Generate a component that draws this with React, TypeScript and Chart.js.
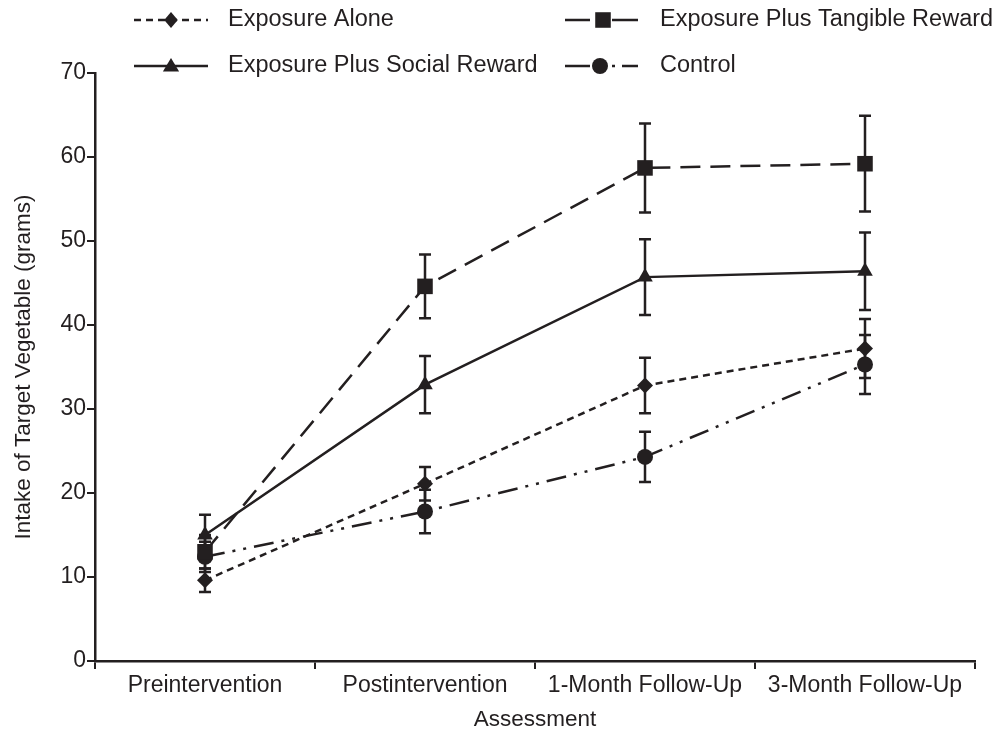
import React, { useEffect, useRef } from "react";
import { Chart, registerables } from "chart.js";

Chart.register(...registerables);

const categories = ["Preintervention", "Postintervention", "1-Month Follow-Up", "3-Month Follow-Up"];
const seriesNames = ["Exposure Alone", "Exposure Plus Tangible Reward", "Exposure Plus Social Reward", "Control"];
const exposureAlone = [9.6, 21.1, 32.8, 37.2];
const exposureAloneErr = [1.4, 2.0, 3.3, 3.5];
const tangibleReward = [13.0, 44.6, 58.7, 59.2];
const tangibleRewardErr = [2.0, 3.8, 5.3, 5.7];
const socialReward = [15.0, 32.9, 45.7, 46.4];
const socialRewardErr = [2.4, 3.4, 4.5, 4.6];
const control = [12.4, 17.8, 24.3, 35.3];
const controlErr = [1.8, 2.6, 3.0, 3.5];
const yTicks = [0, 10, 20, 30, 40, 50, 60, 70];

const INK = "#231f20";
const FONT = "'Liberation Sans', Arial, Helvetica, sans-serif";

function drawMarker(ctx: CanvasRenderingContext2D, style: string, x: number, y: number, r: number) {
  ctx.save();
  ctx.fillStyle = INK;
  ctx.beginPath();
  if (style === "rectRot") {
    ctx.moveTo(x, y - r);
    ctx.lineTo(x + r * 0.85, y);
    ctx.lineTo(x, y + r);
    ctx.lineTo(x - r * 0.85, y);
    ctx.closePath();
  } else if (style === "rect") {
    const s = r * Math.SQRT1_2;
    ctx.rect(x - s, y - s, 2 * s, 2 * s);
  } else if (style === "triangle") {
    const h = r * 1.5;
    const hw = r * 0.9;
    ctx.moveTo(x, y - h * 0.6);
    ctx.lineTo(x + hw, y + h * 0.4);
    ctx.lineTo(x - hw, y + h * 0.4);
    ctx.closePath();
  } else {
    ctx.arc(x, y, r, 0, Math.PI * 2);
  }
  ctx.fill();
  ctx.restore();
}

const errorBarPlugin = {
  id: "errorBars",
  beforeDatasetsDraw(chart: any) {
    const ctx = chart.ctx as CanvasRenderingContext2D;
    const yScale = chart.scales.y;
    chart.data.datasets.forEach((ds: any, i: number) => {
      const meta = chart.getDatasetMeta(i);
      meta.data.forEach((pt: any, j: number) => {
        const v = ds.data[j];
        const e = ds.errors[j];
        const yTop = yScale.getPixelForValue(v + e);
        const yBot = yScale.getPixelForValue(v - e);
        ctx.save();
        ctx.strokeStyle = INK;
        ctx.lineWidth = 2.5;
        ctx.setLineDash([]);
        ctx.beginPath();
        ctx.moveTo(pt.x, yTop);
        ctx.lineTo(pt.x, yBot);
        ctx.moveTo(pt.x - 6, yTop);
        ctx.lineTo(pt.x + 6, yTop);
        ctx.moveTo(pt.x - 6, yBot);
        ctx.lineTo(pt.x + 6, yBot);
        ctx.stroke();
        ctx.restore();
      });
    });
  },
};

const legendPlugin = {
  id: "customLegend",
  afterDraw(chart: any) {
    const ctx = chart.ctx as CanvasRenderingContext2D;
    const slots = [
      { x1: 134, x2: 208, mx: 171, tx: 228, y: 20 },
      { x1: 565, x2: 638, mx: 603, tx: 660, y: 20 },
      { x1: 134, x2: 208, mx: 171, tx: 228, y: 66 },
      { x1: 565, x2: 638, mx: 600, tx: 660, y: 66 },
    ];
    chart.data.datasets.forEach((ds: any, i: number) => {
      const s = slots[i];
      ctx.save();
      ctx.strokeStyle = INK;
      ctx.lineWidth = 2.5;
      ctx.setLineDash(ds.legendDash || []);
      ctx.beginPath();
      ctx.moveTo(s.x1, s.y);
      ctx.lineTo(s.x2, s.y);
      ctx.stroke();
      ctx.restore();
      drawMarker(ctx, ds.pointStyle, s.mx, s.y, ds.legendRadius);
      ctx.save();
      ctx.fillStyle = INK;
      ctx.font = `23.5px ${FONT}`;
      ctx.textBaseline = "middle";
      ctx.textAlign = "left";
      ctx.fillText(ds.label, s.tx, s.y);
      ctx.restore();
    });
  },
};

export default function App() {
  const ref = useRef<HTMLCanvasElement | null>(null);
  useEffect(() => {
    if (!ref.current) return;
    const common = {
      borderColor: INK,
      backgroundColor: INK,
      pointBackgroundColor: INK,
      pointBorderColor: INK,
      pointBorderWidth: 0,
      borderWidth: 2.5,
      tension: 0,
      fill: false,
    };
    const chart = new Chart(ref.current, {
      type: "line",
      data: {
        labels: categories,
        datasets: [
          { ...common, label: seriesNames[0], data: exposureAlone, errors: exposureAloneErr, borderDash: [7, 5], legendDash: [7, 5], pointStyle: "rectRot", pointRadius: 8, legendRadius: 8 } as any,
          { ...common, label: seriesNames[1], data: tangibleReward, errors: tangibleRewardErr, borderDash: [20, 10], legendDash: [25, 22, 26, 100], pointStyle: "rect", pointRadius: 11, legendRadius: 11 } as any,
          { ...common, label: seriesNames[2], data: socialReward, errors: socialRewardErr, borderDash: [], legendDash: [], pointStyle: "triangle", pointRadius: 9, legendRadius: 9 } as any,
          { ...common, label: seriesNames[3], data: control, errors: controlErr, borderDash: [20, 8, 3, 8, 3, 8], legendDash: [25, 22, 3, 7, 16, 100], pointStyle: "circle", pointRadius: 8, legendRadius: 8 } as any,
        ],
      },
      options: {
        responsive: false,
        animation: false,
        devicePixelRatio: 1,
        layout: { padding: { top: 73, right: 29, left: 0, bottom: 0 } },
        plugins: { legend: { display: false }, tooltip: { enabled: false } },
        scales: {
          x: {
            type: "category",
            offset: true,
            afterFit: (s: any) => { s.height = 73; },
            grid: { display: true, offset: true, drawOnChartArea: false, drawTicks: true, tickLength: 8, color: INK, lineWidth: 2 },
            border: { display: true, color: INK, width: 2.5 },
            ticks: { color: INK, font: { family: FONT, size: 23 }, padding: 3, maxRotation: 0, autoSkip: false },
            title: { display: true, text: "Assessment", color: INK, font: { family: FONT, size: 22.5 }, padding: { top: 0, bottom: 1 } },
          },
          y: {
            min: 0,
            max: 70,
            afterFit: (s: any) => { s.width = 95; },
            afterBuildTicks: (s: any) => { s.ticks = yTicks.map((v) => ({ value: v })); },
            grid: { display: true, drawOnChartArea: false, drawTicks: true, tickLength: 8, color: INK, lineWidth: 2 },
            border: { display: true, color: INK, width: 2.5 },
            ticks: { color: INK, font: { family: FONT, size: 23 }, padding: 1 },
            title: { display: true, text: "Intake of Target Vegetable (grams)", color: INK, font: { family: FONT, size: 22.5 }, padding: { top: 10, bottom: 0 } },
          },
        },
      },
      plugins: [errorBarPlugin, legendPlugin],
    } as any);
    return () => chart.destroy();
  }, []);
  return (
    <div style={{ position: "absolute", left: 0, top: 0, width: 1004, height: 734, background: "#fff" }}>
      <canvas ref={ref} width={1004} height={734} style={{ width: 1004, height: 734 }} />
    </div>
  );
}
